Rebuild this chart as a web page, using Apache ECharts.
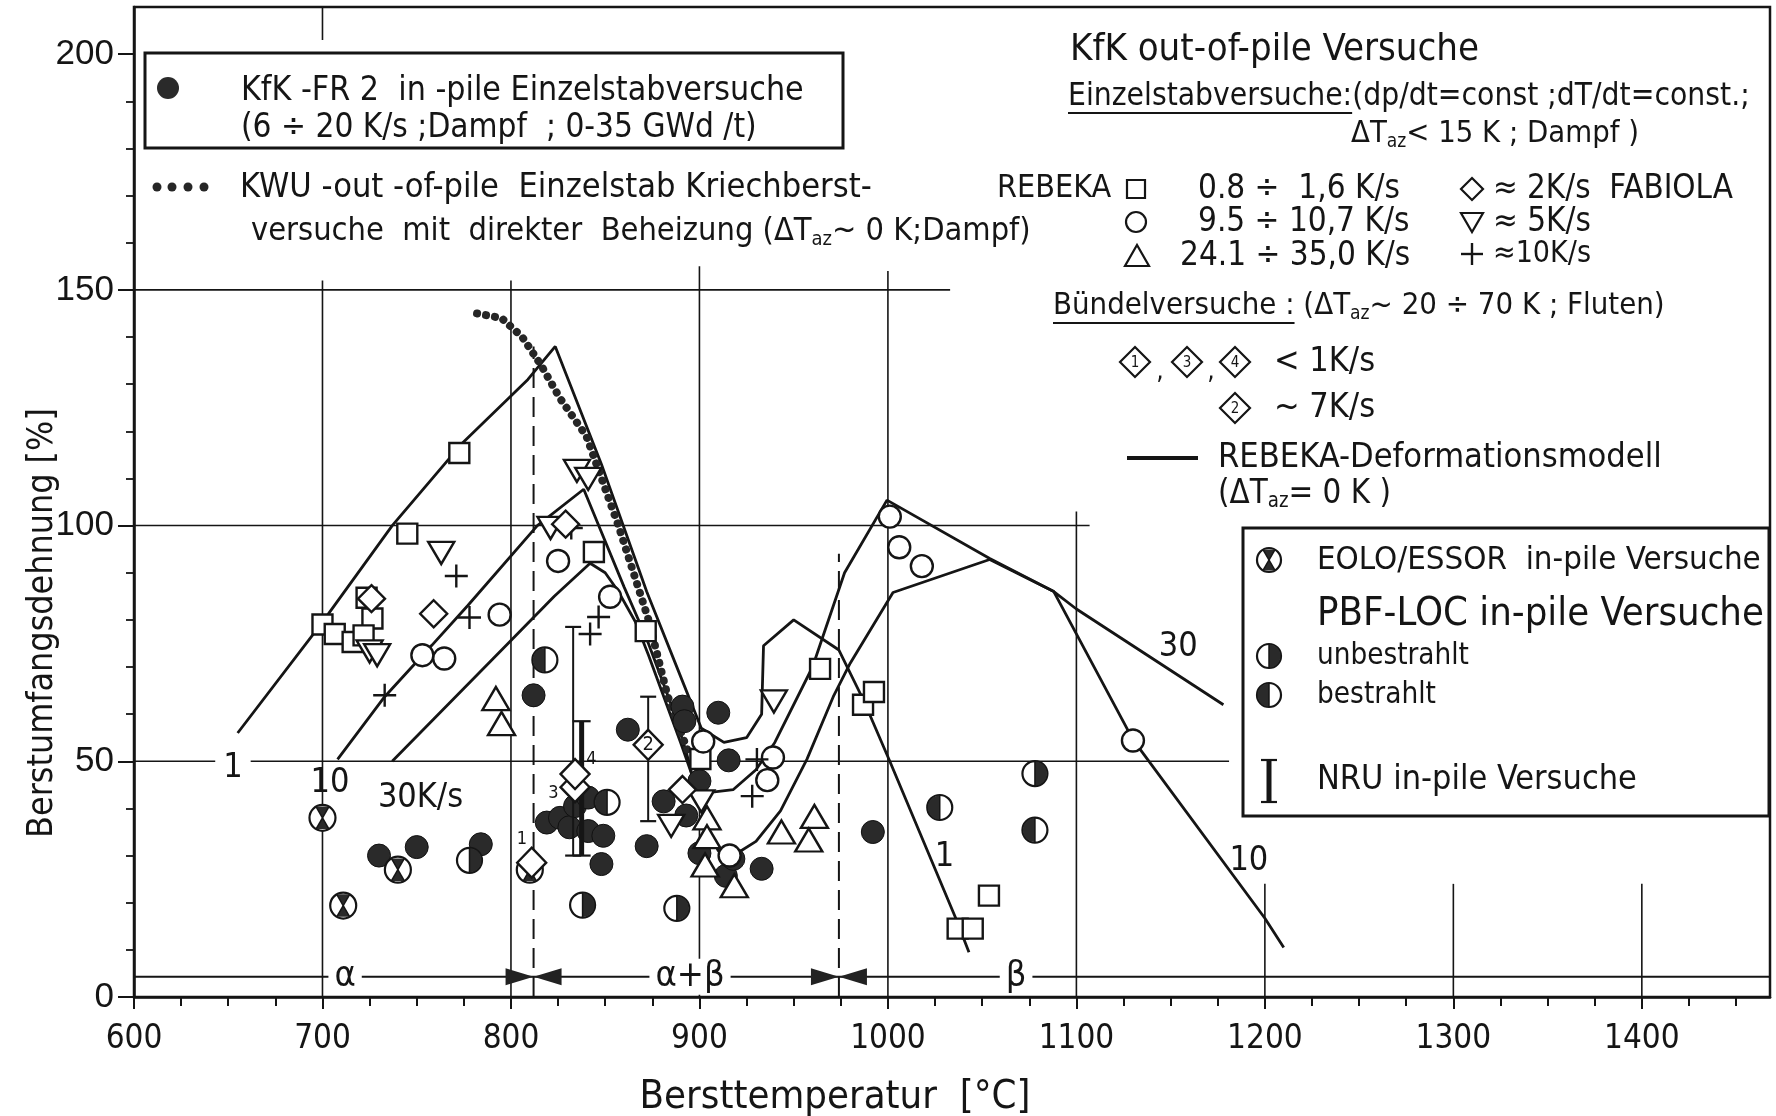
<!DOCTYPE html>
<html>
<head>
<meta charset="utf-8">
<script src="https://cdn.jsdelivr.net/npm/echarts@6/dist/echarts.min.js"></script>
<style>html,body{margin:0;padding:0;background:#fff}#c{width:1776px;height:1116px}</style>
</head>
<body>
<div id="c"></div>
<script>
// ---------------- data ----------------
const X_MIN = 600, X_MAX = 1468, Y_MIN = 0, Y_MAX = 210;
const X_TICKS = [600, 700, 800, 900, 1000, 1100, 1200, 1300, 1400];
const Y_TICKS = [0, 50, 100, 150, 200];

// REBEKA single rod tests
const SQUARES = [[700,79],[706.5,77],[716,75.3],[723.4,84.7],[726.5,80.3],[721.8,76.7],[745,98.3],[772.6,115.4],[844,94.4],[871.5,77.6],[900.5,50.5],[964,69.6],[986.8,62],[992.6,64.7],[1037,14.5],[1045,14.5],[1053.6,21.5]];
const CIRCLES = [[753,72.5],[764.6,71.8],[794,81.1],[825,92.5],[852.6,84.9],[902,54.2],[916,30],[936,46],[939,50.8],[1001,101.9],[1006,95.4],[1018,91.4],[1130,54.4]];
const TRIANGLES = [[792,63.3],[795,58],[904,38],[904,34],[903,28],[918.5,23.6],[943.5,35],[961,38.3],[958,33.3]];
const DOWN_TRIANGLES = [[725,73.3],[729,72.5],[763,94.2],[821,99.5],[835,111.6],[841,109.9],[885,36.3],[901,41.5],[939.5,62.7]];
const PLUSES = [[733,64],[771,89.3],[778,80.5],[832,99.5],[842,77],[846.5,80.6],[928,42.6],[930.5,50.4]];
const FABIOLA = [[726,84.5],[759,81.3],[829,100.3],[891,44]];
// bundle tests (numbered diamonds)
const BUNDLE = [[811,28.5,'1'],[834,44.5,'3'],[834,47.3,'4'],[872.8,53.5,'2']];
// in-pile tests
const KFK_FR2 = [[730,30],[750,31.8],[784,32.4],[812,64],[819,37],[826,38],[831,36],[834,40.5],[841,42.3],[841,35.2],[849,34.2],[848,28.2],[862,56.7],[872,32],[881,41.5],[891,61.6],[892,58.5],[893,38.5],[900,45.8],[900,30.5],[910,60.3],[915.5,50.2],[914,25.7],[918,29.3],[933,27.2],[992,35]];
const EOLO = [[700,38],[711,19.4],[740,27],[810,27]];
const PBF_UNBESTRAHLT = [[778,29],[838,19.5],[888,18.8],[1078,47.4]];
const PBF_BESTRAHLT = [[818,71.5],[851,41.3],[1027.5,40.2],[1078,35.4]];
const NRU_THIN = [[833,30,78.5],[872.8,37.3,63.7]];
const NRU_THICK = [[837.5,30,58.5]];

// REBEKA deformation model curves (1, 10, 30 K/s)
const MODEL_1 = [[655,56],[699,79],[737,100],[774,117.4],[809,131],[823.5,138],[848,113],[872,86],[892,66],[901,57],[913,54],[925,55],[933,60],[934,74.5],[950,80],[974,73.6],[987,63],[1001,50],[1036,16.7],[1043,9.5]];
const MODEL_10 = [[708,50.4],[733,63.7],[758,74.6],[777,83],[814,100],[838.6,107.7],[860,87],[872,76],[886,61],[893,52],[898,44],[908,43.5],[918,44],[930,48.2],[940,54],[960,70],[977,90],[999.5,105.4],[1054,93],[1088,86],[1130,54.6],[1200,16.7],[1210,10.5]];
const MODEL_30 = [[737,50],[800,75.6],[823,85],[842,92],[850,90],[857,86],[866,79.6],[873,72.5],[890,54],[897,46],[903,37],[910,31],[920,30.5],[930,33],[943,39.5],[957,50.4],[971,63.7],[980,70.8],[1002.7,85.8],[1054,92.8],[1088,86],[1100,82.3],[1178,62]];
// KWU creep burst tests (dotted)
const KWU = [[782,145],[795,144],[806,140],[816,134],[826,127],[840,119],[857,100],[873,80],[883,64],[894,52]];

const CURVE_LABELS = [['1',652.5,48.6],['10',704,45.3],['30K/s',752,42.2],['1',1030,29.6],['30',1154,74.2],['10',1191.5,28.9]];
const PHASE_LABELS = [['α',712],['α+β',895],['β',1068]];
const PHASE_BOUNDARIES = [[812,138],[974,94]];   // x, upper end of dashed line
const PHASE_LINE_Y = 4.3;

// partial grid lines of the original drawing: [x1,y1,x2,y2]
const GRID_SEGMENTS = [[600,50,1181,50],[600,100,1107,100],[600,150,1033,150],
  [700,0,700,152],[700,203,700,210],[800,0,800,152],[900,0,900,155],[1000,0,1000,154],
  [1100,0,1100,103],[1200,0,1200,24],[1300,0,1300,24],[1400,0,1400,24]];

// ---------------- styling ----------------
const INK = '#151515', DOT = '#2a2a2a';
const NARROW = "'Liberation Sans Narrow','DejaVu Sans Condensed','Roboto Condensed','Arial Narrow',sans-serif";
const WIDE = "'Liberation Sans','DejaVu Sans',Arial,sans-serif";
const SUB = 0.62;

const X_MINOR = []; for (let v = 625; v < X_MAX; v += 25) if (v % 100) X_MINOR.push(v);
const Y_MINOR = []; for (let v = 10; v < 205; v += 10) if (v % 50) Y_MINOR.push(v);

// ---------- shape builders ----------
function eoloShape(cx, cy, r) {
  const a = r * 0.5, b = r * 0.866;
  return [
    {type:'circle', shape:{cx, cy, r}, style:{fill:'#fff', stroke:INK, lineWidth:2.2}},
    {type:'polygon', shape:{points:[[cx-a,cy-b],[cx+a,cy-b],[cx,cy]]}, style:{fill:DOT}},
    {type:'polygon', shape:{points:[[cx-a,cy+b],[cx+a,cy+b],[cx,cy]]}, style:{fill:DOT}},
    {type:'line', shape:{x1:cx-a,y1:cy-b,x2:cx+a,y2:cy+b}, style:{stroke:INK,lineWidth:1.5}},
    {type:'line', shape:{x1:cx+a,y1:cy-b,x2:cx-a,y2:cy+b}, style:{stroke:INK,lineWidth:1.5}}
  ];
}
function halfShape(cx, cy, r, darkRight) {
  const st = darkRight ? -Math.PI/2 : Math.PI/2;
  return [
    {type:'circle', shape:{cx, cy, r}, style:{fill:'#fff', stroke:INK, lineWidth:2.2}},
    {type:'sector', shape:{cx, cy, r0:0, r:r-0.5, startAngle:st, endAngle:st+Math.PI, clockwise:true}, style:{fill:DOT}},
    {type:'line', shape:{x1:cx,y1:cy-r,x2:cx,y2:cy+r}, style:{stroke:INK,lineWidth:1.5}}
  ];
}
function nruShape(x, yTop, yBot, lw, cap) {
  return [
    {type:'line', shape:{x1:x,y1:yTop,x2:x,y2:yBot}, style:{stroke:INK,lineWidth:lw}},
    {type:'line', shape:{x1:x-cap,y1:yTop,x2:x+cap,y2:yTop}, style:{stroke:INK,lineWidth:2.2}},
    {type:'line', shape:{x1:x-cap,y1:yBot,x2:x+cap,y2:yBot}, style:{stroke:INK,lineWidth:2.2}}
  ];
}

// ---------- series ----------
function pt(api) { return api.coord([api.value(0), api.value(1)]); }
const series = [];

series.push({type:'custom', name:'grid', silent:true, z:1, clip:false,
  encode:{x:[0,2], y:[1,3]}, data: GRID_SEGMENTS,
  renderItem:(p, api) => {
    const a = api.coord([api.value(0), api.value(1)]), b = api.coord([api.value(2), api.value(3)]);
    return {type:'line', shape:{x1:a[0],y1:a[1],x2:b[0],y2:b[1]}, style:{stroke:INK, lineWidth:1.6}};
  }});

// phase line
series.push({type:'line', name:'phase', silent:true, z:2, symbol:'none',
  data:[[X_MIN, PHASE_LINE_Y],[X_MAX, PHASE_LINE_Y]], lineStyle:{color:INK, width:2}});
PHASE_BOUNDARIES.forEach(b => series.push({type:'line', silent:true, z:2, symbol:'none',
  data:[[b[0],0],[b[0],b[1]]], lineStyle:{color:INK, width:2, type:[20,9]}}));
series.push({type:'custom', name:'bowtie', silent:true, z:6, clip:false,
  data: PHASE_BOUNDARIES.map(b => [b[0], PHASE_LINE_Y]),
  renderItem:(p, api) => {
    const c = pt(api), w = 28, h = 8.5;
    return {type:'group', children:[
      {type:'polygon', shape:{points:[[c[0]-w,c[1]-h],[c[0]-w,c[1]+h],[c[0],c[1]]]}, style:{fill:'#222'}},
      {type:'polygon', shape:{points:[[c[0]+w,c[1]-h],[c[0]+w,c[1]+h],[c[0],c[1]]]}, style:{fill:'#222'}}
    ]};
  }});
series.push({type:'scatter', name:'phaseLabels', silent:true, z:7, symbolSize:1,
  itemStyle:{color:'rgba(0,0,0,0)', opacity:1},
  data: PHASE_LABELS.map(l => ({name:l[0], value:[l[1], PHASE_LINE_Y]})),
  label:{show:true, position:'inside', formatter:'{b}', fontFamily:NARROW, fontSize:36, color:INK,
    backgroundColor:'#fff', padding:[0,6]}});

// model curves
[MODEL_1, MODEL_10, MODEL_30].forEach(d => series.push({type:'line', silent:true, z:3, symbol:'none',
  data:d, lineStyle:{color:INK, width:2.8}}));
series.push({type:'line', name:'KWU', silent:true, z:3, symbol:'none', data:KWU,
  lineStyle:{color:'#262626', width:8, type:[0.1, 9], cap:'round'}});

series.push({type:'scatter', name:'curveLabels', silent:true, z:4, symbolSize:1,
  itemStyle:{color:'rgba(0,0,0,0)', opacity:1},
  data: CURVE_LABELS.map((l, i) => ({name:l[0], value:[l[1], l[2]],
    label: i === 0 ? {backgroundColor:'#fff', padding:[0,8]} : {}})),
  label:{show:true, position:'inside', formatter:'{b}', fontFamily:NARROW, fontSize:34, color:INK}});

// in-pile data
series.push({type:'scatter', name:'KfK-FR2', z:5, symbol:'circle', symbolSize:23, data:KFK_FR2,
  itemStyle:{color:DOT, borderColor:'#111', borderWidth:1, opacity:1}});
series.push({type:'custom', name:'EOLO', z:6, data:EOLO,
  renderItem:(p, api) => { const c = pt(api); return {type:'group', children:eoloShape(c[0], c[1], 13)}; }});
series.push({type:'custom', name:'PBF unbestrahlt', z:6, data:PBF_UNBESTRAHLT,
  renderItem:(p, api) => { const c = pt(api); return {type:'group', children:halfShape(c[0], c[1], 12.5, true)}; }});
series.push({type:'custom', name:'PBF bestrahlt', z:6, data:PBF_BESTRAHLT,
  renderItem:(p, api) => { const c = pt(api); return {type:'group', children:halfShape(c[0], c[1], 12.5, false)}; }});
series.push({type:'custom', name:'NRU', z:6, data:NRU_THIN, encode:{x:0, y:[1,2]},
  renderItem:(p, api) => { const t = api.coord([api.value(0), api.value(2)]), b = api.coord([api.value(0), api.value(1)]);
    return {type:'group', children:nruShape(t[0], t[1], b[1], 2, 8)}; }});
series.push({type:'custom', name:'NRU thick', z:6, data:NRU_THICK, encode:{x:0, y:[1,2]},
  renderItem:(p, api) => { const t = api.coord([api.value(0), api.value(2)]), b = api.coord([api.value(0), api.value(1)]);
    return {type:'group', children:nruShape(t[0], t[1], b[1], 5, 9)}; }});

// out-of-pile data
const OPEN = {color:'#fff', borderColor:INK, borderWidth:2.4, opacity:1};
series.push({type:'scatter', name:'REBEKA 0.8-1.6', z:7, symbol:'rect', symbolSize:20, data:SQUARES, itemStyle:OPEN});
series.push({type:'scatter', name:'REBEKA 9.5-10.7', z:7, symbol:'circle', symbolSize:22, data:CIRCLES, itemStyle:OPEN});
series.push({type:'scatter', name:'REBEKA 24.1-35', z:7, symbol:'triangle', symbolSize:[27,23], data:TRIANGLES, itemStyle:OPEN});
series.push({type:'scatter', name:'FABIOLA 5', z:7, symbol:'triangle', symbolRotate:180, symbolSize:[26,22], data:DOWN_TRIANGLES, itemStyle:OPEN});
series.push({type:'scatter', name:'FABIOLA 10', z:7, symbol:'path://M0 10H20M10 0V20', symbolSize:23, data:PLUSES,
  itemStyle:{color:'rgba(0,0,0,0)', borderColor:INK, borderWidth:2.4, opacity:1}});
series.push({type:'scatter', name:'FABIOLA 2', z:7, symbol:'diamond', symbolSize:[27,27], data:FABIOLA, itemStyle:OPEN});
const BUNDLE_LABEL = {
  '1': {position:[6, -7], fontSize:18},
  '3': {position:[-6, 22], fontSize:18},
  '4': {position:[32, 2], fontSize:18},
  '2': {position:'inside', fontSize:20}
};
series.push({type:'scatter', name:'Bündel', z:8, symbol:'diamond', symbolSize:[29,30],
  data: BUNDLE.map(b => ({name:b[2], value:[b[0], b[1]], label:BUNDLE_LABEL[b[2]]})),
  itemStyle:OPEN,
  label:{show:true, formatter:'{b}', fontFamily:NARROW, color:INK, align:'center', verticalAlign:'middle'}});

// ---------- legend / annotation graphics ----------
const G = [];
const mctx = document.createElement('canvas').getContext('2d');
function mw(s, size, fam) { mctx.font = size + 'px ' + fam; return mctx.measureText(s).width; }
function addText(x1, x2, yc, parts, fam, minS, maxS) {
  const B = 30; let w = 0;
  parts.forEach(p => { w += mw(p[0], p[1] ? B*SUB : B, fam); });
  let s = B * (x2 - x1) / w; s = Math.max(minS, Math.min(maxS, s));
  const rich = {
    n:{fontSize:s, fontFamily:fam, fill:INK, verticalAlign:'middle'},
    s:{fontSize:s*SUB, fontFamily:fam, fill:INK, verticalAlign:'middle', padding:[s*0.5,0,0,0]}
  };
  const text = parts.map(p => '{' + (p[1] ? 's' : 'n') + '|' + p[0] + '}').join('');
  G.push({type:'text', x:x1, y:yc, z:60, style:{text, rich, fontSize:s, fontFamily:fam, fill:INK,
    align:'left', verticalAlign:'middle', textAlign:'left', textVerticalAlign:'middle'}});
  return s;
}
function hline(x1, x2, y, lw) { G.push({type:'line', z:60, shape:{x1, y1:y, x2, y2:y}, style:{stroke:INK, lineWidth:lw}}); }
function grp(children) { children.forEach(c => { c.z = 60; G.push(c); }); }
function diamondNum(cx, cy, h, num, fs) {
  grp([{type:'polygon', shape:{points:[[cx,cy-h],[cx+h,cy],[cx,cy+h],[cx-h,cy]]}, style:{fill:'#fff', stroke:INK, lineWidth:2.2}},
       {type:'text', x:cx, y:cy+1, style:{text:num, fontSize:fs, fontFamily:NARROW, fill:INK, align:'center', verticalAlign:'middle', textAlign:'center', textVerticalAlign:'middle'}}]);
}

// boxes
G.push({type:'rect', z:55, shape:{x:145, y:53, width:698, height:95}, style:{fill:'#fff', stroke:INK, lineWidth:3}});
G.push({type:'rect', z:55, shape:{x:1243, y:528, width:526, height:288}, style:{fill:'#fff', stroke:INK, lineWidth:3}});

// top-left legend
grp([{type:'circle', shape:{cx:168, cy:88, r:11}, style:{fill:DOT}}]);
addText(241, 804, 91, [['KfK -FR 2  in -pile Einzelstabversuche']], NARROW, 24, 36);
addText(241, 757, 128, [['(6 ÷ 20 K/s ;Dampf  ; 0-35 GWd /t)']], NARROW, 24, 36);
grp([157,172,188,204].map(x => ({type:'circle', shape:{cx:x, cy:187, r:4.5}, style:{fill:'#262626'}})));
addText(240, 872, 188, [['KWU -out -of-pile  Einzelstab Kriechberst-']], NARROW, 24, 36);
addText(251, 1031, 232, [['versuche  mit  direkter  Beheizung (ΔT'], ['az', 1], ['~ 0 K;Dampf)']], NARROW, 24, 36);

// top-right legend
addText(1070, 1514, 50, [['KfK out-of-pile Versuche']], NARROW, 24, 38);
const s6 = addText(1068, 1750, 97, [['Einzelstabversuche:(dp/dt=const ;dT/dt=const.;']], NARROW, 24, 36);
hline(1068, 1068 + mw('Einzelstabversuche:', s6, NARROW), 113, 2.2);
addText(1351, 1639, 134, [['ΔT'], ['az', 1], ['< 15 K ; Dampf )']], NARROW, 24, 34);
addText(997, 1122, 189, [['REBEKA']], NARROW, 24, 32);
grp([{type:'rect', shape:{x:1127, y:180, width:18, height:18}, style:{fill:'#fff', stroke:INK, lineWidth:2.2}}]);
addText(1198, 1410, 189, [['0.8 ÷  1,6 K/s']], NARROW, 24, 33);
grp([{type:'polygon', shape:{points:[[1472,178],[1483,189],[1472,200],[1461,189]]}, style:{fill:'#fff', stroke:INK, lineWidth:2.2}}]);
addText(1493, 1733, 189, [['≈ 2K/s  FABIOLA']], NARROW, 24, 33);
grp([{type:'circle', shape:{cx:1136, cy:222, r:10}, style:{fill:'#fff', stroke:INK, lineWidth:2.2}}]);
addText(1198, 1410, 222, [['9.5 ÷ 10,7 K/s']], NARROW, 24, 33);
grp([{type:'polygon', shape:{points:[[1461,213],[1483,213],[1472,232]]}, style:{fill:'#fff', stroke:INK, lineWidth:2.2}}]);
addText(1493, 1591, 222, [['≈ 5K/s']], NARROW, 24, 33);
grp([{type:'polygon', shape:{points:[[1125,266],[1149,266],[1137,245]]}, style:{fill:'#fff', stroke:INK, lineWidth:2.2}}]);
addText(1180, 1416, 256, [['24.1 ÷ 35,0 K/s']], NARROW, 24, 33);
grp([{type:'line', shape:{x1:1461,y1:254,x2:1483,y2:254}, style:{stroke:INK, lineWidth:2.4}},
     {type:'line', shape:{x1:1472,y1:243,x2:1472,y2:265}, style:{stroke:INK, lineWidth:2.4}}]);
addText(1493, 1591, 254, [['≈10K/s']], NARROW, 24, 33);
const s15 = addText(1053, 1665, 306, [['Bündelversuche : (ΔT'], ['az', 1], ['~ 20 ÷ 70 K ; Fluten)']], NARROW, 24, 34);
hline(1053, 1053 + mw('Bündelversuche :', s15, NARROW), 323, 2.2);
diamondNum(1135, 362, 15, '1', 15);
diamondNum(1187, 362, 15, '3', 15);
diamondNum(1235, 362, 15, '4', 15);
G.push({type:'text', x:1160, y:372, z:60, style:{text:',', fontSize:26, fontFamily:NARROW, fill:INK, align:'center', verticalAlign:'middle'}});
G.push({type:'text', x:1211, y:372, z:60, style:{text:',', fontSize:26, fontFamily:NARROW, fill:INK, align:'center', verticalAlign:'middle'}});
addText(1274, 1384, 362, [['< 1K/s']], NARROW, 24, 34);
diamondNum(1235, 408, 15, '2', 15);
addText(1274, 1384, 408, [['~ 7K/s']], NARROW, 24, 34);
hline(1127, 1198, 458, 4);
addText(1218, 1662, 458, [['REBEKA-Deformationsmodell']], NARROW, 24, 36);
addText(1218, 1391, 494, [['(ΔT'], ['az', 1], ['= 0 K )']], NARROW, 24, 36);

// right box legend
grp(eoloShape(1269, 560, 12));
addText(1317, 1761, 560, [['EOLO/ESSOR  in-pile Versuche']], NARROW, 24, 34);
addText(1317, 1764, 615, [['PBF-LOC in-pile Versuche']], NARROW, 24, 40);
grp(halfShape(1269, 656, 12, true));
addText(1317, 1469, 656, [['unbestrahlt']], NARROW, 24, 32);
grp(halfShape(1269, 695, 12, false));
addText(1317, 1436, 695, [['bestrahlt']], NARROW, 24, 32);
grp(nruShape(1269, 760, 802, 5, 8));
addText(1317, 1637, 780, [['NRU in-pile Versuche']], NARROW, 24, 34);

// axis names
(function(){
  const yName = 'Berstumfangsdehnung [%]';
  const ys = 30 * 430 / mw(yName, 30, NARROW);
  G.push({type:'text', x:43, y:623, rotation:Math.PI/2, z:60, style:{text:yName, fontSize:Math.min(40, ys), fontFamily:NARROW, fill:INK,
    align:'center', verticalAlign:'middle', textAlign:'center', textVerticalAlign:'middle'}});
  const xName = 'Bersttemperatur  [°C]';
  const xs = 30 * 391 / mw(xName, 30, NARROW);
  G.push({type:'text', x:835, y:1098, z:60, style:{text:xName, fontSize:Math.min(40, xs), fontFamily:NARROW, fill:INK,
    align:'center', verticalAlign:'middle', textAlign:'center', textVerticalAlign:'middle'}});
})();

// ---------- chart ----------
const chart = echarts.init(document.getElementById('c'), null, {renderer:'canvas'});
chart.setOption({
  animation:false,
  backgroundColor:'#fff',
  grid:{left:134, right:6, top:7, bottom:119, show:true, borderColor:INK, borderWidth:2.5, backgroundColor:'rgba(0,0,0,0)'},
  xAxis:[
    {type:'value', min:X_MIN, max:X_MAX, interval:100, position:'bottom',
     axisLine:{show:true, onZero:false, lineStyle:{color:INK, width:2.5}},
     axisTick:{show:true, length:12, customValues:X_TICKS, lineStyle:{color:INK, width:2}},
     axisLabel:{customValues:X_TICKS, formatter:v => (v % 100 === 0 ? String(v) : ''), fontFamily:NARROW, fontSize:33, color:INK, margin:26},
     splitLine:{show:false}},
    {type:'value', min:X_MIN, max:X_MAX, interval:25, position:'bottom',
     axisLine:{show:false}, axisTick:{show:true, length:9, customValues:X_MINOR, lineStyle:{color:INK, width:2}},
     axisLabel:{show:false}, splitLine:{show:false}}
  ],
  yAxis:[
    {type:'value', min:Y_MIN, max:Y_MAX, interval:50, position:'left',
     axisLine:{show:true, onZero:false, lineStyle:{color:INK, width:2.5}},
     axisTick:{show:true, length:16, customValues:Y_TICKS, lineStyle:{color:INK, width:2}},
     axisLabel:{customValues:Y_TICKS, formatter:v => (v % 50 === 0 ? String(v) : ''), fontFamily:WIDE, fontSize:35, color:INK, margin:20},
     splitLine:{show:false}},
    {type:'value', min:Y_MIN, max:Y_MAX, interval:10, position:'left',
     axisLine:{show:false}, axisTick:{show:true, length:8, customValues:Y_MINOR, lineStyle:{color:INK, width:1.8}},
     axisLabel:{show:false}, splitLine:{show:false}}
  ],
  series: series,
  graphic: G
});
</script>
</body>
</html>
